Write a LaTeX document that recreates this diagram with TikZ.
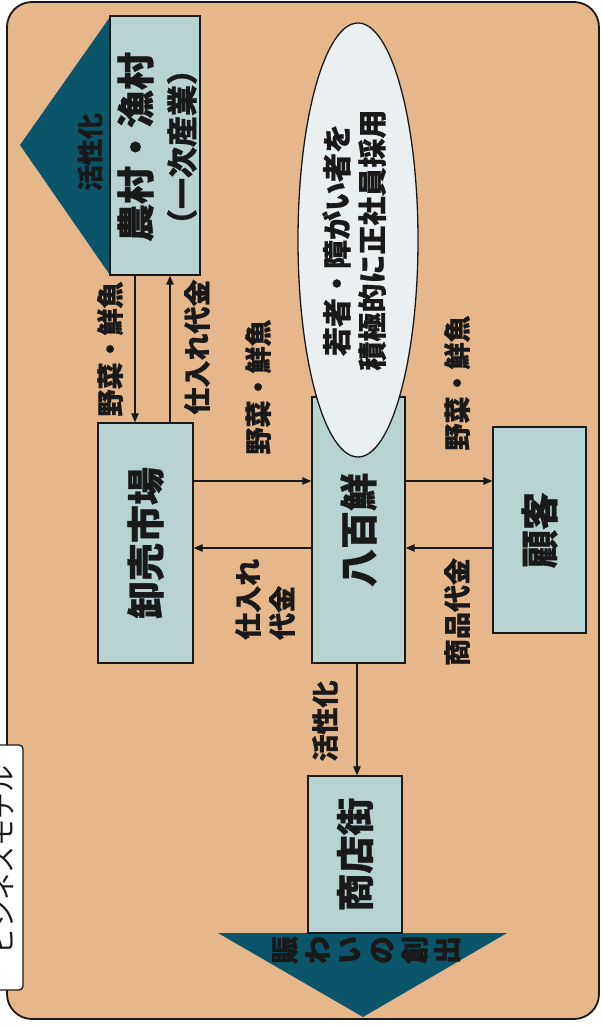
\documentclass[tikz,border=0pt]{standalone}
\usepackage{fontspec}
\newfontfamily\jp[BoldFeatures={FakeBold=0.8}]{Noto Sans CJK JP}
\usetikzlibrary{arrows.meta,shapes.geometric}
\definecolor{tanbg}{RGB}{229,183,139}
\definecolor{boxfill}{RGB}{183,212,210}
\definecolor{deepteal}{RGB}{10,85,105}
\definecolor{ellfill}{RGB}{234,239,241}
\definecolor{ink}{RGB}{25,25,25}
\begin{document}
\begin{tikzpicture}[x=1pt,y=-1pt,
  boxst/.style={draw=ink, line width=1.4pt, fill=boxfill, inner sep=0pt, text=ink,
    font=\jp\bfseries\fontsize{38}{40}\selectfont},
  lbl/.style={rotate=90, inner sep=0pt, text=ink, font=\jp\bfseries\fontsize{27}{30}\selectfont},
  flow/.style={draw=ink, line width=1.1pt, -{Triangle[length=9pt,width=7.5pt]}}
]
\useasboundingbox (0,0) rectangle (602,1026);
\fill[white] (0,0) rectangle (602,1026);
\draw[line width=1.8pt, draw=ink, fill=tanbg, rounded corners=25pt] (7,2) rectangle (599,1019);

% title tab
\node[draw=ink, line width=1.3pt, fill=white, rounded corners=4pt, minimum width=53pt, minimum height=245pt, inner sep=0pt] (title) at (-3.5,867.5) {};
\node[rotate=90, inner sep=0pt, text=ink, font=\jp\fontsize{27}{30}\selectfont] (titletext) at (2,860) {ビジネスモデル};

% top triangle
\fill[deepteal] (110,17) -- (20,145) -- (110,275) -- cycle;
\node[lbl, font=\jp\bfseries\fontsize{26}{28}\selectfont] (act1) at (90,152) {活性化};

% farm box
\node[boxst, minimum width=90pt, minimum height=259pt] (farm) at (155,145.5) {};
\node[lbl, font=\jp\bfseries\fontsize{38}{40}\selectfont] (farm1) at (135.5,147) {農村・漁村};
\node[lbl, font=\jp\bfseries\fontsize{31}{33}\selectfont] (farm2) at (182,147) {（一次産業）};

% boxes
\node[boxst, minimum width=95pt, minimum height=240pt] (whole) at (145.5,543) {\rotatebox{90}{卸売市場}};
\node[boxst, minimum width=93pt, minimum height=266pt] (yaoya) at (358.5,530) {\rotatebox{90}{八百鮮}};
\node[boxst, minimum width=93pt, minimum height=206pt] (cust) at (539.5,530) {\rotatebox{90}{顧客}};

% ellipse
\node[draw=ink, line width=1.3pt, fill=ellfill, ellipse, minimum width=120pt, minimum height=434pt, inner sep=0pt, text=ink,
  font=\jp\bfseries\fontsize{29}{35}\selectfont] (ell) at (358,240)
  {\rotatebox{90}{\begin{tabular}{@{}c@{}}若者・障がい者を\\積極的に正社員採用\end{tabular}}};

% bottom triangle and shop
\fill[deepteal] (218,933) -- (507,933) -- (363,1017) -- cycle;
\node[boxst, minimum width=94pt, minimum height=157pt] (shop) at (355,854.5) {\rotatebox{90}{商店街}};
\foreach \c [count=\i] in {賑,わ,い,の,創,出}
  \node[lbl, font=\jp\bfseries\fontsize{28}{30}\selectfont] (b\i) at ({285+32.4*(\i-1)},950) {\c};

% helper coordinates
\coordinate (xa) at (135,0);
\coordinate (xb) at (170,0);
\coordinate (ya) at (0,481);
\coordinate (yb) at (0,548);
\coordinate (xd) at (357,0);

% arrows
\draw[flow] (xa |- farm.south) -- (xa |- whole.north);
\draw[flow] (xb |- whole.north) -- (xb |- farm.south);
\draw[flow] (whole.east |- ya) -- (yaoya.west |- ya);
\draw[flow] (yaoya.west |- yb) -- (whole.east |- yb);
\draw[flow] (yaoya.east |- ya) -- (cust.west |- ya);
\draw[flow] (cust.west |- yb) -- (yaoya.east |- yb);
\draw[flow] (xd |- yaoya.south) -- (xd |- shop.north);

% labels
\node[lbl] (l1) at (110,349) {野菜・鮮魚};
\node[lbl] (l2) at (197,347) {仕入れ代金};
\node[lbl] (l3) at (258,387) {野菜・鮮魚};
\node[lbl, anchor=west] (l4) at (248,640) {仕入れ};
\node[lbl, anchor=west] (l5) at (282,640) {代金};
\node[lbl] (l6) at (457,383) {野菜・鮮魚};
\node[lbl] (l7) at (457,612) {商品代金};
\node[lbl] (l8) at (325,721) {活性化};
\end{tikzpicture}
\end{document}
